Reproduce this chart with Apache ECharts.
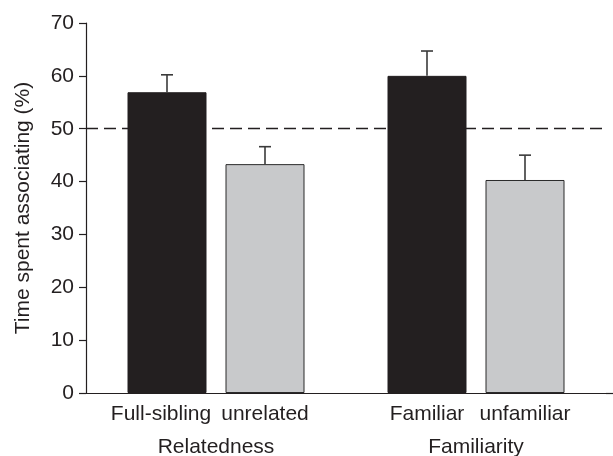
<!DOCTYPE html>
<html>
<head>
<meta charset="utf-8">
<script src="https://cdn.jsdelivr.net/npm/echarts@6/dist/echarts.min.js"></script>
<style>
  html, body { margin: 0; padding: 0; background: #ffffff; }
  #chart { width: 613px; height: 456px; }
</style>
</head>
<body>
<div id="chart"></div>
<script>
// Group names along the x axis
const groups = ['Relatedness', 'Familiarity'];
// Condition labels under each bar
const blackLabels = ['Full-sibling', 'Familiar'];
const greyLabels = ['unrelated', 'unfamiliar'];
// Mean time spent associating (%) and standard errors
const blackMeans = [56.9, 60.0];
const blackErrors = [3.3, 4.7];
const greyMeans = [43.3, 40.3];
const greyErrors = [3.3, 4.7];
// Chance level reference line
const chanceLevel = 50;
// Y axis range
const yMin = 0, yMax = 70, yStep = 10;

const FONT = '"Liberation Sans", Arial, Helvetica, sans-serif';
const FONT_SIZE = 21;
const INK = '#231f20';
const BAR_W = 79;
const BAR_GAP = 19;
const HALF_STEP = (BAR_W + BAR_GAP) / 2;

function errorSeries(means, errors, side) {
  return {
    type: 'custom',
    silent: true,
    z: 5,
    data: means.map((m, i) => [i, m, m + errors[i]]),
    renderItem: function (params, api) {
      const base = api.coord([api.value(0), api.value(1)]);
      const top = api.coord([api.value(0), api.value(2)]);
      const x = base[0] + side * HALF_STEP;
      const cap = 6;
      const style = { stroke: '#3a3a3a', lineWidth: 1.6 };
      return {
        type: 'group',
        children: [
          { type: 'line', shape: { x1: x, y1: base[1], x2: x, y2: top[1] }, style: style },
          { type: 'line', shape: { x1: x - cap, y1: top[1], x2: x + cap, y2: top[1] }, style: style }
        ]
      };
    }
  };
}

// The longer left-hand label is nudged left so it clears its neighbour
const blackData = blackMeans.map((v, i) =>
  i === 0 ? { value: v, label: { offset: [-6, 0] } } : v);

const chart = echarts.init(document.getElementById('chart'));
chart.setOption({
  animation: false,
  backgroundColor: '#ffffff',
  grid: { left: 86, right: 7, top: 23, bottom: 63, outerBoundsMode: 'none', containLabel: false },
  xAxis: {
    type: 'category',
    data: groups,
    axisLine: { lineStyle: { color: INK, width: 1.2 } },
    axisTick: { alignWithLabel: true, length: 5, lineStyle: { color: INK, width: 1.2 } },
    axisLabel: { color: INK, fontSize: FONT_SIZE, fontFamily: FONT, margin: 44 }
  },
  yAxis: {
    type: 'value',
    min: yMin,
    max: yMax,
    interval: yStep,
    name: 'Time spent associating (%)',
    nameLocation: 'middle',
    nameGap: 52,
    nameTextStyle: { color: INK, fontSize: FONT_SIZE, fontFamily: FONT },
    splitLine: { show: false },
    axisLine: { show: true, lineStyle: { color: INK, width: 1.2 } },
    axisTick: { show: true, length: 7, lineStyle: { color: INK, width: 1.2 } },
    axisLabel: { color: INK, fontSize: FONT_SIZE, fontFamily: FONT, margin: 12 }
  },
  series: [
    {
      type: 'bar',
      data: blackData,
      barWidth: BAR_W,
      barGap: (BAR_GAP / BAR_W * 100) + '%',
      itemStyle: { color: INK, borderColor: INK, borderWidth: 1 },
      label: {
        show: true,
        position: 'bottom',
        distance: 11,
        color: INK,
        fontSize: FONT_SIZE,
        fontFamily: FONT,
        formatter: p => blackLabels[p.dataIndex]
      },
      markLine: {
        silent: true,
        symbol: 'none',
        z: 1,
        label: { show: false },
        lineStyle: { color: INK, type: [12, 6], width: 1.3 },
        data: [{ yAxis: chanceLevel }]
      }
    },
    {
      type: 'bar',
      data: greyMeans,
      barWidth: BAR_W,
      itemStyle: { color: '#c8c9cb', borderColor: '#2a2a2a', borderWidth: 1 },
      label: {
        show: true,
        position: 'bottom',
        distance: 11,
        color: INK,
        fontSize: FONT_SIZE,
        fontFamily: FONT,
        formatter: p => greyLabels[p.dataIndex]
      }
    },
    errorSeries(blackMeans, blackErrors, -1),
    errorSeries(greyMeans, greyErrors, 1)
  ]
});

// Continue the x axis line to the right edge of the canvas
const origin = chart.convertToPixel({ gridIndex: 0 }, [groups.length - 1, yMin]);
chart.setOption({
  graphic: [{
    type: 'line',
    shape: { x1: 606, y1: Math.round(origin[1]) + 0.5, x2: 613, y2: Math.round(origin[1]) + 0.5 },
    style: { stroke: INK, lineWidth: 1.2 }
  }]
});
</script>
</body>
</html>
